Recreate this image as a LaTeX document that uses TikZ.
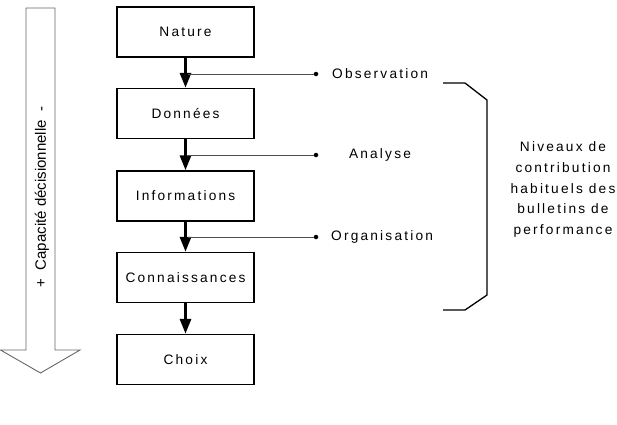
\documentclass[tikz,border=0pt]{standalone}
\usepackage{fontspec}
\setmainfont{Liberation Sans}
\newfontfamily\spaced[LetterSpace=16]{Liberation Sans}
\usetikzlibrary{arrows.meta}
\begin{document}
\begin{tikzpicture}[x=1pt,y=-1pt,
  stagebox/.style={draw=black,line width=1.4pt,minimum width=137pt,minimum height=50pt,inner sep=0pt,
    font=\spaced\fontsize{13.7}{16}\selectfont},
  flow/.style={line width=3pt,-{Triangle[length=15pt,width=11pt]}},
  feed/.style={draw=black!70,line width=0.8pt},
  tag/.style={font=\spaced\fontsize{13.7}{16}\selectfont,inner sep=0pt},
  dotmark/.style={circle,fill=black,inner sep=0pt,minimum size=4.5pt}]
\useasboundingbox (0,0) rectangle (617,424);
% big arrow
\draw[black!60,line width=0.9pt] (26,8) -- (55,8) -- (55,350) -- (80,350) -- (40.5,373) -- (0.5,350) -- (26,350) -- cycle;
\node[rotate=90,font=\fontsize{15}{17}\selectfont,inner sep=0pt] (cap) at (42,197) {+\ \ Capacité décisionnelle\ \ -};
% boxes
\node[stagebox] (nat) at (185.5,32) {Nature};
\node[stagebox] (don) at (185.5,113.5) {Données};
\node[stagebox] (inf) at (185.5,196) {Informations};
\node[stagebox] (con) at (185.5,277.5) {Connaissances};
\node[stagebox] (cho) at (185.5,359.5) {Choix};
\draw[flow] (nat) -- (don);
\draw[flow] (don) -- (inf);
\draw[flow] (inf) -- (con);
\draw[flow] (con) -- (cho);
% junctions and dots
\coordinate (j1) at (188,74);
\coordinate (j2) at (188,155);
\coordinate (j3) at (188,237);
\node[dotmark] (d1) at (316,74) {};
\node[dotmark] (d2) at (316,155) {};
\node[dotmark] (d3) at (316,237) {};
\draw[feed] (j1) -- (d1);
\draw[feed] (j2) -- (d2);
\draw[feed] (j3) -- (d3);
\node[tag,anchor=west] (obs) at (332,74) {Observation};
\node[tag] (ana) at (380,155) {Analyse};
\node[tag,anchor=west] (org) at (331,237) {Organisation};
% bracket
\draw[line width=1.3pt] (443,83) -- (465,83) -- (487,100) -- (487,295) -- (465,310) -- (443,310);
\node[font=\spaced\fontsize{13.7}{20.7}\selectfont,align=center,inner sep=0pt] (niv) at (563,189.5)
  {Niveaux de\\contribution\\habituels des\\bulletins de\\performance};
\end{tikzpicture}
\end{document}
